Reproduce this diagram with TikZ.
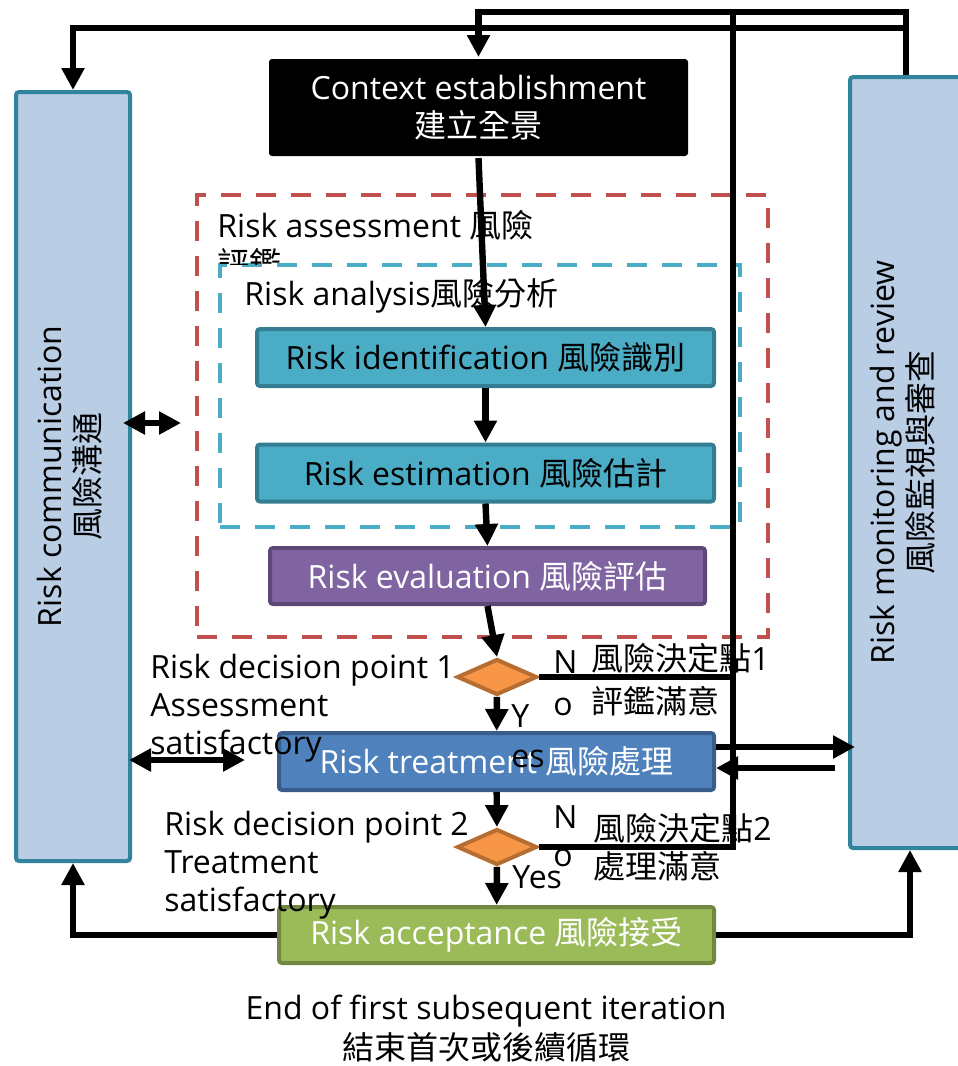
\documentclass[tikz,border=0pt]{standalone}
\usepackage{fontspec}
\setmainfont{Open Sans}
\newfontfamily\cjk{Noto Sans CJK TC}
\usetikzlibrary{arrows.meta,shapes.geometric,calc}

\definecolor{commfill}{HTML}{B9CDE5}
\definecolor{commedge}{HTML}{31849B}
\definecolor{anafill}{HTML}{4BACC6}
\definecolor{anaedge}{HTML}{357D91}
\definecolor{evalfill}{HTML}{8064A2}
\definecolor{evaledge}{HTML}{5C4776}
\definecolor{treatfill}{HTML}{4F81BD}
\definecolor{treatedge}{HTML}{385D8A}
\definecolor{decfill}{HTML}{F79646}
\definecolor{decedge}{HTML}{B66D31}
\definecolor{accfill}{HTML}{9BBB59}
\definecolor{accedge}{HTML}{71893F}
\definecolor{zonered}{HTML}{C0504D}
\definecolor{zoneblue}{HTML}{4BACC6}

\begin{document}
\begin{tikzpicture}[x=0.5pt,y=-0.5pt,>={Triangle[length=11pt,width=11pt]},font=\fontsize{16}{19}\selectfont]

	\tikzstyle{box}   = [rectangle, line width=2pt, rounded corners=1.5pt, inner sep=0pt, align=center]
	\tikzstyle{side}  = [box, draw=commedge, fill=commfill, minimum width=57pt, minimum height=384.5pt]
	\tikzstyle{stage} = [box, draw=anaedge, fill=anafill, minimum width=228.5pt, minimum height=28.5pt]
	\tikzstyle{dec}   = [diamond, draw=decedge, fill=decfill, line width=2pt, minimum width=40pt, minimum height=18pt, inner sep=0pt]
	\tikzstyle{zone}  = [rectangle, line width=2pt, dash pattern=on 10pt off 7.5pt]
	\tikzstyle{lbl}   = [inner sep=0pt, align=left, anchor=base west]
	\tikzstyle{conn}  = [line width=3.2pt]
	\tikzstyle{flow}  = [conn, ->]

	\useasboundingbox (0,0) rectangle (958,1066);

	\node [side] (comm) at (73,476.5) {\rotatebox{90}{\begin{tabular}{@{}c@{}}Risk communication\\\cjk 風險溝通\end{tabular}}};
	\node [side, minimum width=56pt, minimum height=385.5pt] (mon) at (906,462.5) {\rotatebox{90}{\begin{tabular}{@{}c@{}}Risk monitoring and review\\\cjk 風險監視與審查\end{tabular}}};

	\node [box, fill=black, text=white, minimum width=209.5pt, minimum height=48.5pt] (ctx) at (478.5,107.5) {Context establishment\\{\cjk 建立全景}};

	\node [zone, draw=zonered, minimum width=285.5pt, minimum height=221pt] (assess) at (482.5,416) {};
	\node [zone, draw=zoneblue, minimum width=260pt, minimum height=131pt] (analysis) at (480,396) {};
	\begin{scope}
		\clip (assess.north west) rectangle (560,264);
		\node [lbl] (assesst) at (217,275) {Risk assessment {\cjk 風險}\\{\cjk 評鑑}};
	\end{scope}
	\node [lbl] (analysist) at (244,305) {Risk analysis{\cjk 風險分析}};

	\node [stage] (ident) at (485.5,357.5) {Risk identification {\cjk 風險識別}};
	\node [stage] (estim) at (485.5,473) {Risk estimation {\cjk 風險估計}};
	\node [stage, fill=evalfill, draw=evaledge, text=white, minimum width=217.5pt, minimum height=28pt] (eval) at (487.5,576) {Risk evaluation {\cjk 風險評估}};
	\node [dec] (dec1) at (497,677) {};
	\node [stage, fill=treatfill, draw=treatedge, text=white, minimum width=217.5pt] (treat) at (496.5,761.5) {Risk treatment {\cjk 風險處理}};
	\node [dec] (dec2) at (497,847) {};
	\node [stage, fill=accfill, draw=accedge, text=white, minimum width=217.5pt, minimum height=28pt] (accept) at (496.5,935) {Risk acceptance {\cjk 風險接受}};

	\node [lbl] (dec1t) at (150,754) {Risk decision point 1\\Assessment\\satisfactory};
	\node [lbl] (dec2t) at (164,911) {Risk decision point 2\\Treatment\\satisfactory};
	\node [lbl, font=\fontsize{16}{21}\selectfont] (no1) at (553,715) {N\\o};
	\node [lbl, font=\fontsize{16}{20}\selectfont] (yes1) at (511,767) {Y\\es};
	\node [lbl] (no2) at (553,866) {N\\o};
	\node [lbl] (yes2) at (512,888) {Yes};
	\node [lbl, font=\fontsize{16}{21.5}\selectfont] (dec1z) at (591,713) {{\cjk 風險決定點}1\\{\cjk 評鑑滿意}};
	\node [lbl] (dec2z) at (593,878) {{\cjk 風險決定點}2\\{\cjk 處理滿意}};
	\node [align=center, anchor=base, font=\fontsize{16}{20}\selectfont] (endt) at (486,1059) {End of first subsequent iteration\\{\cjk 結束首次或後續循環}};

	\draw [flow] (ctx.south) -- (ident.north);
	\draw [flow] (ident) -- (estim);
	\draw [flow] (estim.south) -- (eval.north);
	\draw [flow] (eval.south) -- (dec1.north);
	\draw [flow] (dec1) -- (treat);
	\draw [flow] (treat) -- (dec2);
	\draw [flow] (dec2) -- (accept);

	\coordinate (back) at (733,12);
	\draw [conn] (dec2.east) -| (back);
	\draw [conn] (dec1.east) -- (dec1.east -| back);
	\draw [flow] (mon.north) |- (back) -| (ctx.north);
	\draw [flow] ($(mon.north)+(0,-47)$) -| (comm.north);

	\draw [flow] ($(treat.east)+(0,-14.5)$) -- ($(treat.east -| mon.west)+(7,-14.5)$);
	\draw [flow] ($(treat.east -| mon.west)+(-13,6.5)$) -- ($(treat.east)+(0,6.5)$);

	\draw [flow, <->] ($(comm.east)+(-9,-53.5)$) -- ($(assess.west |- comm.east)+(-14,-53.5)$);
	\draw [flow, <->] ($(comm.east |- treat.west)+(-3,-1.5)$) -- ($(treat.west)+(-32,-1.5)$);

	\draw [flow] (accept.west) -| (comm.south);
	\draw [flow] (accept.east) -| ($(mon.south)+(4,0)$);

\end{tikzpicture}
\end{document}
